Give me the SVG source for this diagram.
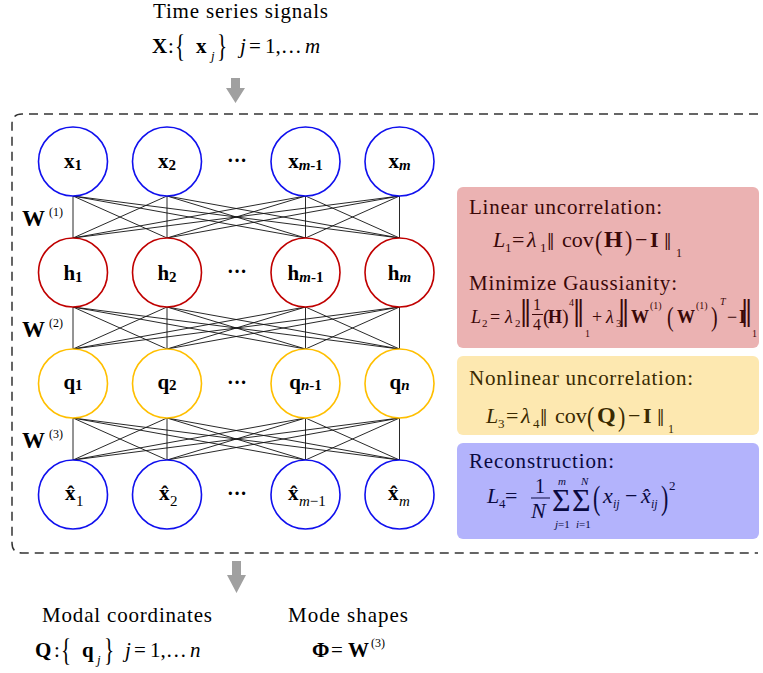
<svg xmlns="http://www.w3.org/2000/svg" width="763" height="673" viewBox="0 0 763 673">
<style>
text{font-family:"Liberation Serif","Times New Roman",serif;fill:#000}
.b{font-weight:bold}
.i{font-style:italic}
.nl{font-size:21px;font-weight:bold;text-anchor:middle}
.sb{font-size:15px}
.blue{fill:#fff;stroke:#1010ee;stroke-width:1.6}
.red{fill:#fff;stroke:#c00000;stroke-width:1.6}
.yel{fill:#fff;stroke:#ffbf00;stroke-width:1.6}
.conn path{fill:none;stroke:#111;stroke-width:0.9}
.dots{font-size:20px;font-weight:bold;text-anchor:middle}
.arrow{fill:#a0a0a0}
.pk text{fill:#3a0808}
.yl text{fill:#3a2a00}
.bl text{fill:#0a0a40}
</style>

<!-- dashed frame -->
<path d="M758 114 H22 Q12 114 12 124 V543 Q12 553 22 553 H758" fill="none" stroke="#333" stroke-width="1.5" stroke-dasharray="9 6"/>

<!-- top caption -->
<g id="input">
<text x="153" y="18" font-size="21" textLength="175">Time series signals</text>
<text y="53" font-size="21"><tspan x="152" class="b">X</tspan><tspan x="168">:</tspan><tspan x="196" class="b">x</tspan><tspan x="211" y="60" font-size="13" class="i">j</tspan><tspan x="240" y="53" class="i">j</tspan><tspan x="249">=</tspan><tspan x="265">1,…</tspan><tspan x="305" class="i">m</tspan></text>
<text transform="translate(175 57) scale(1 1.55)" font-size="21">{</text>
<text transform="translate(217 57) scale(1 1.55)" font-size="21">}</text>
</g>
<polygon class="arrow" points="231,78 240,78 240,88 245,88 235.5,103 226,88 231,88"/>

<!-- connectors -->
<g id="connectors" class="conn">
<path d="M73 196L73 238M73 196L167 238M73 196L305.5 238M73 196L399.5 238"/>
<path d="M167 196L73 238M167 196L167 238M167 196L305.5 238M167 196L399.5 238"/>
<path d="M305.5 196L73 238M305.5 196L167 238M305.5 196L305.5 238M305.5 196L399.5 238"/>
<path d="M399.5 196L73 238M399.5 196L167 238M399.5 196L305.5 238M399.5 196L399.5 238"/>
<path d="M73 307L73 349M73 307L167 349M73 307L305.5 349M73 307L399.5 349"/>
<path d="M167 307L73 349M167 307L167 349M167 307L305.5 349M167 307L399.5 349"/>
<path d="M305.5 307L73 349M305.5 307L167 349M305.5 307L305.5 349M305.5 307L399.5 349"/>
<path d="M399.5 307L73 349M399.5 307L167 349M399.5 307L305.5 349M399.5 307L399.5 349"/>
<path d="M73 418L73 460M73 418L167 460M73 418L305.5 460M73 418L399.5 460"/>
<path d="M167 418L73 460M167 418L167 460M167 418L305.5 460M167 418L399.5 460"/>
<path d="M305.5 418L73 460M305.5 418L167 460M305.5 418L305.5 460M305.5 418L399.5 460"/>
<path d="M399.5 418L73 460M399.5 418L167 460M399.5 418L305.5 460M399.5 418L399.5 460"/>
</g>

<!-- weight labels -->
<text x="22" y="226" font-size="23" class="b">W<tspan x="49" y="216" font-size="12" font-weight="normal">(1)</tspan></text>
<text x="22" y="337" font-size="23" class="b">W<tspan x="49" y="327" font-size="12" font-weight="normal">(2)</tspan></text>
<text x="22" y="448" font-size="23" class="b">W<tspan x="49" y="438" font-size="12" font-weight="normal">(3)</tspan></text>

<!-- input layer -->
<g id="x1"><circle class="blue" cx="73" cy="161.5" r="34.5"/><text class="nl" x="73" y="168">x<tspan class="sb" dy="2">1</tspan></text></g>
<g id="x2"><circle class="blue" cx="167" cy="161.5" r="34.5"/><text class="nl" x="167" y="168">x<tspan class="sb" dy="2">2</tspan></text></g>
<text class="dots" x="237" y="167">···</text>
<g id="xm1"><circle class="blue" cx="305.5" cy="161.5" r="34.5"/><text class="nl" x="305.5" y="168">x<tspan class="sb i" dy="2">m</tspan><tspan class="sb">-1</tspan></text></g>
<g id="xm"><circle class="blue" cx="399.5" cy="161.5" r="34.5"/><text class="nl" x="399.5" y="168">x<tspan class="sb i" dy="2">m</tspan></text></g>

<!-- hidden layer h -->
<g id="h1"><circle class="red" cx="73" cy="272.5" r="34.5"/><text class="nl" x="73" y="280">h<tspan class="sb" dy="2">1</tspan></text></g>
<g id="h2"><circle class="red" cx="167" cy="272.5" r="34.5"/><text class="nl" x="167" y="280">h<tspan class="sb" dy="2">2</tspan></text></g>
<text class="dots" x="237" y="278">···</text>
<g id="hm1"><circle class="red" cx="305.5" cy="272.5" r="34.5"/><text class="nl" x="305.5" y="280">h<tspan class="sb i" dy="2">m</tspan><tspan class="sb">-1</tspan></text></g>
<g id="hm"><circle class="red" cx="399.5" cy="272.5" r="34.5"/><text class="nl" x="399.5" y="280">h<tspan class="sb i" dy="2">m</tspan></text></g>

<!-- q layer -->
<g id="q1"><circle class="yel" cx="73" cy="383.5" r="34.5"/><text class="nl" x="73" y="389">q<tspan class="sb" dy="1">1</tspan></text></g>
<g id="q2"><circle class="yel" cx="167" cy="383.5" r="34.5"/><text class="nl" x="167" y="389">q<tspan class="sb" dy="1">2</tspan></text></g>
<text class="dots" x="237" y="389">···</text>
<g id="qn1"><circle class="yel" cx="305.5" cy="383.5" r="34.5"/><text class="nl" x="305.5" y="389">q<tspan class="sb i" dy="1">n</tspan><tspan class="sb">-1</tspan></text></g>
<g id="qn"><circle class="yel" cx="399.5" cy="383.5" r="34.5"/><text class="nl" x="399.5" y="389">q<tspan class="sb i" dy="1">n</tspan></text></g>

<!-- output layer -->
<g id="xh1"><circle class="blue" cx="73" cy="494.5" r="34.5"/><text font-size="21"><tspan x="65" y="500" class="b">x̂</tspan><tspan x="76" y="506" font-size="15">1</tspan></text></g>
<g id="xh2"><circle class="blue" cx="167" cy="494.5" r="34.5"/><text font-size="21"><tspan x="159" y="500" class="b">x̂</tspan><tspan x="170" y="506" font-size="15">2</tspan></text></g>
<text class="dots" x="237" y="500">···</text>
<g id="xhm1"><circle class="blue" cx="305.5" cy="494.5" r="34.5"/><text font-size="21"><tspan x="288" y="500" class="b">x̂</tspan><tspan x="299" y="506" font-size="15"><tspan class="i">m</tspan>−1</tspan></text></g>
<g id="xhm"><circle class="blue" cx="399.5" cy="494.5" r="34.5"/><text font-size="21"><tspan x="388" y="500" class="b">x̂</tspan><tspan x="399" y="506" font-size="15" class="i">m</tspan></text></g>

<!-- loss boxes -->
<g id="box-linear" class="pk">
<rect x="457" y="187" width="302" height="161" rx="6" fill="#ebb2b2"/>
<text x="469" y="214" font-size="21" textLength="193">Linear uncorrelation:</text>
<text y="247" font-size="22"><tspan x="493" class="i">L</tspan><tspan x="505" y="252" font-size="13">1</tspan><tspan x="512" y="247">=</tspan><tspan x="527" class="i">λ</tspan><tspan x="540" y="252" font-size="13">1</tspan><tspan x="547" y="250" font-size="26">‖</tspan><tspan x="562" y="247">cov</tspan><tspan x="604" font-size="24" class="b">H</tspan><tspan x="635">−</tspan><tspan x="650" class="b">I</tspan><tspan x="664" y="250" font-size="26">‖</tspan><tspan x="676" y="257" font-size="12">1</tspan></text>
<text transform="translate(595 250) scale(1 1.25)" font-size="22">(</text>
<text transform="translate(625 250) scale(1 1.25)" font-size="22">)</text>
<text x="469" y="290" font-size="21" textLength="208">Minimize Gaussianity:</text>
<text y="323" font-size="18"><tspan x="471" class="i">L</tspan><tspan x="482" y="327" font-size="11">2</tspan><tspan x="490" y="323">=</tspan><tspan x="505" class="i">λ</tspan><tspan x="515" y="327" font-size="11">2</tspan><tspan x="520" y="327" font-size="40">‖</tspan><tspan x="533" y="310" font-size="16">1</tspan><tspan x="533" y="330" font-size="16">4</tspan><tspan x="543" y="324" font-size="20">(</tspan><tspan x="548" y="323" class="b">H</tspan><tspan x="562" y="324" font-size="20">)</tspan><tspan x="569" y="306" font-size="10">4</tspan><tspan x="573" y="327" font-size="40">‖</tspan><tspan x="585" y="337" font-size="10">1</tspan><tspan x="592" y="323">+</tspan><tspan x="606" class="i">λ</tspan><tspan x="616" y="327" font-size="11">3</tspan><tspan x="618" y="327" font-size="40">‖</tspan><tspan x="631" y="323" class="b">W</tspan><tspan x="650" y="309" font-size="10">(1)</tspan><tspan x="677" y="323" class="b">W</tspan><tspan x="696" y="309" font-size="10">(1)</tspan><tspan x="720" y="305" font-size="10" class="i">T</tspan><tspan x="727" y="323">−</tspan><tspan x="739" class="b">I</tspan><tspan x="741" y="327" font-size="40">‖</tspan><tspan x="752" y="337" font-size="10">1</tspan></text>
<text transform="translate(667 326) scale(1 1.35)" font-size="20">(</text>
<text transform="translate(711 326) scale(1 1.35)" font-size="20">)</text>
<line x1="532" y1="314.5" x2="543" y2="314.5" stroke="#3a0808" stroke-width="1"/>
</g>

<g id="box-nonlinear" class="yl">
<rect x="457" y="356" width="302" height="79" rx="6" fill="#fde8b0"/>
<text x="469" y="385" font-size="21" textLength="224">Nonlinear uncorrelation:</text>
<text y="423" font-size="22"><tspan x="486" class="i">L</tspan><tspan x="498" y="428" font-size="13">3</tspan><tspan x="506" y="423">=</tspan><tspan x="521" class="i">λ</tspan><tspan x="533" y="428" font-size="13">4</tspan><tspan x="540" y="426" font-size="26">‖</tspan><tspan x="555" y="423">cov</tspan><tspan x="597" font-size="24" class="b">Q</tspan><tspan x="628">−</tspan><tspan x="643" class="b">I</tspan><tspan x="657" y="426" font-size="26">‖</tspan><tspan x="668" y="433" font-size="12">1</tspan></text>
<text transform="translate(587 426) scale(1 1.25)" font-size="22">(</text>
<text transform="translate(618 426) scale(1 1.25)" font-size="22">)</text>
</g>

<g id="box-recon" class="bl">
<rect x="457" y="443" width="302" height="96" rx="6" fill="#b3b3fc"/>
<text x="469" y="468" font-size="21" textLength="145">Reconstruction:</text>
<text y="503" font-size="22"><tspan x="487" class="i">L</tspan><tspan x="499" y="508" font-size="13">4</tspan><tspan x="505" y="503">=</tspan><tspan x="535" y="493" font-size="20">1</tspan><tspan x="531" y="518" class="i">N</tspan><tspan x="552" y="511" font-size="32">Σ</tspan><tspan x="572" y="511" font-size="32">Σ</tspan><tspan x="603" y="503" class="i">x</tspan><tspan x="613" y="508" font-size="12" class="i">ij</tspan><tspan x="625" y="503">−</tspan><tspan x="641" class="i">x̂</tspan><tspan x="651" y="508" font-size="12" class="i">ij</tspan><tspan x="669" y="490" font-size="13">2</tspan></text>
<text transform="translate(593 509) scale(1 1.5)" font-size="22">(</text>
<text transform="translate(661 509) scale(1 1.5)" font-size="22">)</text>
<text font-size="11"><tspan x="558" y="485" class="i">m</tspan><tspan x="581" y="485" class="i">N</tspan><tspan x="555" y="528" class="i">j</tspan><tspan>=1</tspan><tspan x="576" y="528" class="i">i</tspan><tspan>=1</tspan></text>
<line x1="531" y1="498" x2="550" y2="498" stroke="#0a0a40" stroke-width="1"/>
</g>

<!-- bottom -->
<polygon class="arrow" points="232,561 241,561 241,575 246,575 236.5,593 227,575 232,575"/>
<g id="modal">
<text x="42" y="622" font-size="21" textLength="170">Modal coordinates</text>
<text y="657" font-size="21"><tspan x="35" class="b">Q</tspan><tspan x="54">:</tspan><tspan x="82" class="b">q</tspan><tspan x="97" y="664" font-size="13" class="i">j</tspan><tspan x="125" y="657" class="i">j</tspan><tspan x="134">=</tspan><tspan x="150">1,…</tspan><tspan x="190" class="i">n</tspan></text>
<text transform="translate(61 661) scale(1 1.55)" font-size="21">{</text>
<text transform="translate(104 661) scale(1 1.55)" font-size="21">}</text>
</g>
<g id="shapes">
<text x="288" y="622" font-size="21" textLength="120">Mode shapes</text>
<text y="657" font-size="21"><tspan x="312" class="b">Φ</tspan><tspan x="331">=</tspan><tspan x="348" class="b">W</tspan><tspan x="371" y="647" font-size="12">(3)</tspan></text>
</g>
</svg>
